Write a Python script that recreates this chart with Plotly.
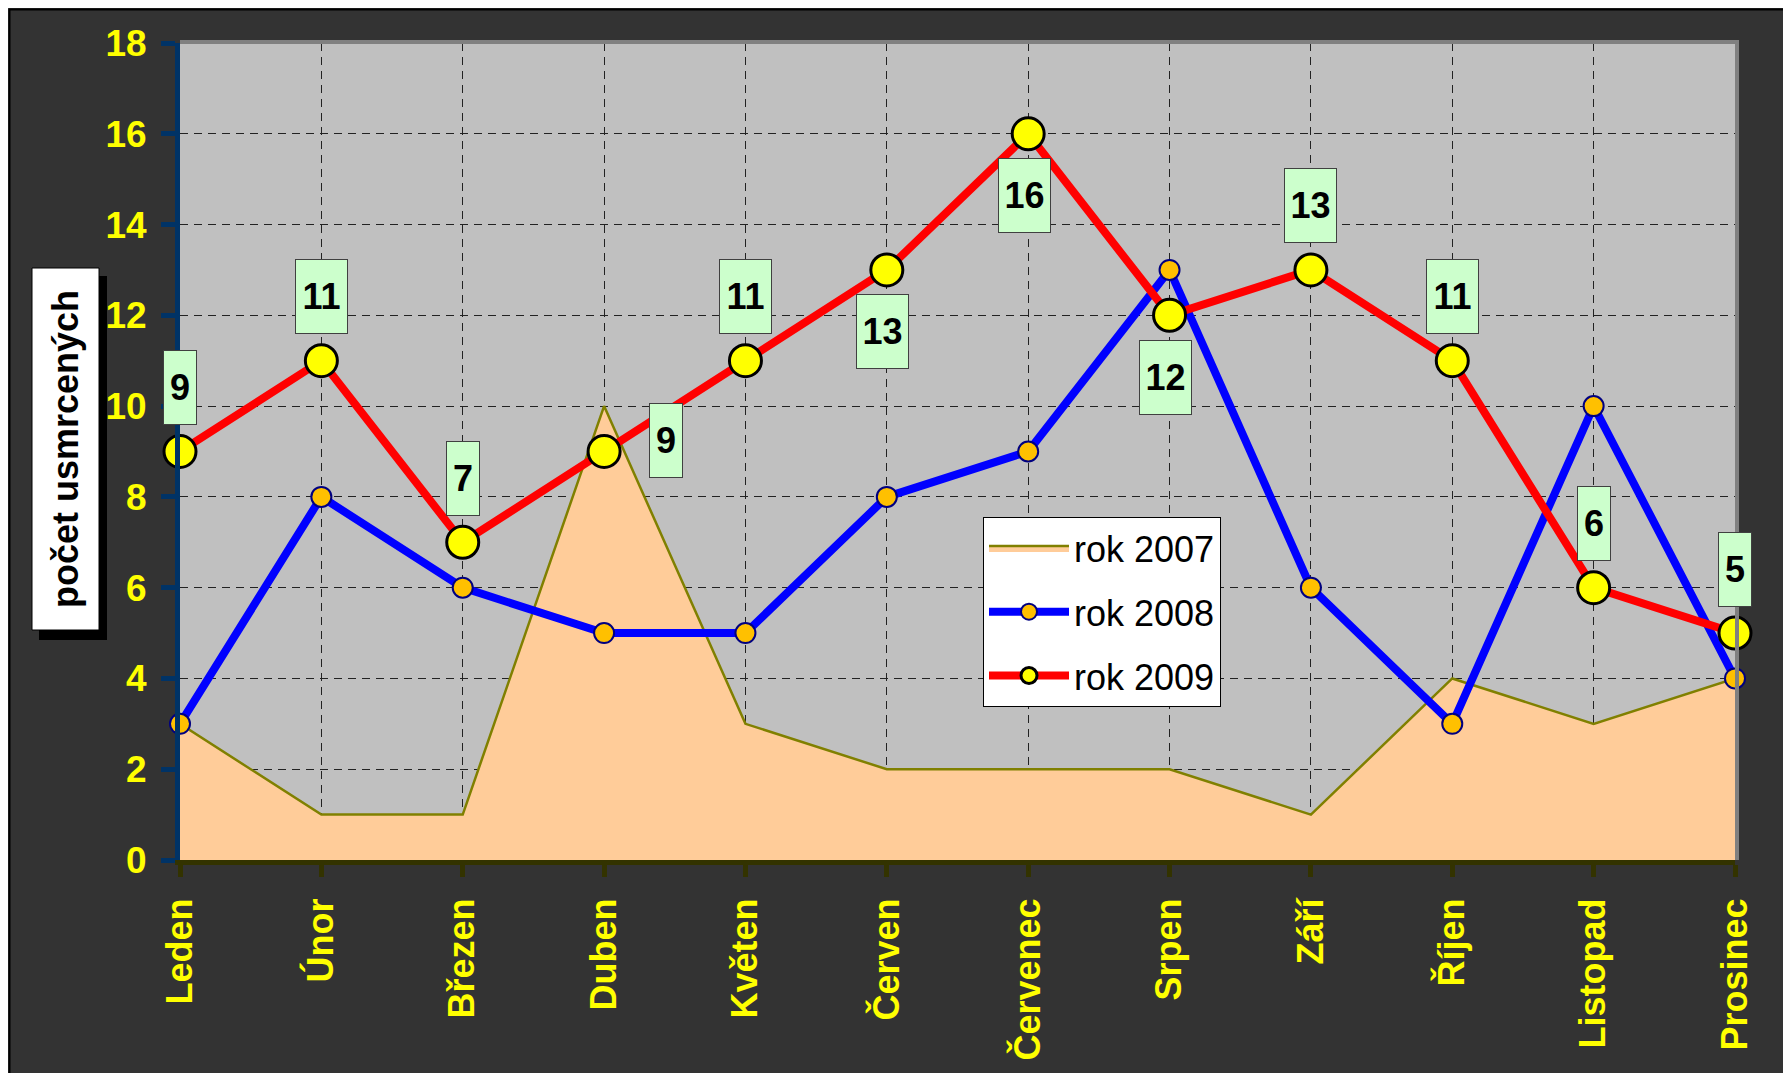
import plotly.graph_objects as go

months = ["Leden", "Únor", "Březen", "Duben", "Květen", "Červen",
          "Červenec", "Srpen", "Září", "Říjen", "Listopad", "Prosinec"]
rok2007 = [3, 1, 1, 10, 3, 2, 2, 2, 1, 4, 3, 4]
rok2008 = [3, 8, 6, 5, 5, 8, 9, 13, 6, 3, 10, 4]
rok2009 = [9, 11, 7, 9, 11, 13, 16, 12, 13, 11, 6, 5]
y_ticks = [0, 2, 4, 6, 8, 10, 12, 14, 16, 18]

# label placement for 2009 values (pixel shifts)
label_pos = ["up", "up", "up", "right", "up", "down", "down", "down", "up", "up", "up", "up"]

OFF = 8  # browser body margin
W, H = 1791 - OFF, 1073 - OFF
L, R, T, B = 180 - OFF, 1735 - OFF, 43 - OFF, 860 - OFF
FONT = "Liberation Sans, Arial, sans-serif"


def px(x):
    """page pixel x -> paper coordinate"""
    return (x - OFF - L) / (R - L)


def py(y):
    """page pixel y -> paper coordinate"""
    return 1 - (y - OFF - T) / (B - T)


fig = go.Figure()

fig.add_trace(go.Scatter(
    x=months, y=rok2007, name="rok 2007", mode="lines", legendgroup="a",
    line=dict(color="#808000", width=2.5),
    fill="tozeroy", fillcolor="#ffcc99", cliponaxis=False,
))
fig.add_trace(go.Scatter(
    x=months, y=rok2008, name="rok 2008", mode="lines+markers", legendgroup="b",
    line=dict(color="#0000ff", width=8),
    marker=dict(size=20, color="#ffc000", line=dict(color="#000080", width=2)),
    cliponaxis=False,
))
fig.add_trace(go.Scatter(
    x=months, y=rok2009, name="rok 2009", mode="lines+markers", legendgroup="c",
    line=dict(color="#ff0000", width=8),
    marker=dict(size=32, color="#ffff00", line=dict(color="#000000", width=3)),
    cliponaxis=False,
))

annotations = []
for m, v, pos in zip(months, rok2009, label_pos):
    xs, ys = 0, 0
    if pos == "up":
        ys = 64
    elif pos == "down":
        ys = -62
        xs = -4
    elif pos == "right":
        xs = 62
        ys = 11
    annotations.append(dict(
        x=m, y=v, xref="x", yref="y", text=str(v), showarrow=False,
        xshift=xs, yshift=ys,
        font=dict(family=FONT, size=36, color="#000000", weight="bold"),
        bgcolor="#ccffcc", bordercolor="#404040", borderwidth=1, borderpad=0,
        width=32 if v < 10 else 51, height=73, valign="middle",
    ))

annotations.append(dict(
    x=px(66), y=py(449), xref="paper", yref="paper",
    text="počet usmrcených", textangle=-90, showarrow=False,
    font=dict(family=FONT, size=36, color="#000000", weight="bold"),
    xanchor="center", yanchor="middle",
))

shapes = [
    # outer frame (left and top visible)
    dict(type="line", xref="paper", yref="paper", x0=px(9.5), x1=px(9.5), y0=py(9), y1=py(1080),
         line=dict(color="#000000", width=2)),
    dict(type="line", xref="paper", yref="paper", x0=px(9), x1=px(1800), y0=py(9.5), y1=py(9.5),
         line=dict(color="#000000", width=2)),
    # plot area top/right border
    dict(type="line", xref="paper", yref="paper", x0=0, x1=1, y0=py(42), y1=py(42),
         line=dict(color="#808080", width=4)),
    dict(type="line", xref="paper", yref="paper", x0=px(1737), x1=px(1737), y0=0, y1=py(40),
         line=dict(color="#808080", width=4)),
    # axis title box with shadow
    dict(type="rect", xref="paper", yref="paper", x0=px(39), x1=px(107), y0=py(276), y1=py(640),
         fillcolor="#000000", line=dict(width=0)),
    dict(type="rect", xref="paper", yref="paper", x0=px(32), x1=px(99), y0=py(268), y1=py(630),
         fillcolor="#ffffff", line=dict(color="#000000", width=1)),
]

fig.update_layout(
    width=W, height=H, autosize=False,
    margin=dict(l=L, r=W - R, t=T, b=H - B),
    paper_bgcolor="#333333", plot_bgcolor="#c0c0c0",
    font=dict(family=FONT),
    showlegend=True,
    legend=dict(
        x=px(983), y=py(517), xanchor="left", yanchor="top",
        bgcolor="#ffffff", bordercolor="#000000", borderwidth=1,
        font=dict(family=FONT, size=36, color="#000000"),
        itemwidth=80, tracegroupgap=14,
    ),
    annotations=annotations,
    shapes=shapes,
)

fig.update_xaxes(
    type="category", range=[0, 11], automargin=False,
    tickangle=-90, tickfont=dict(family=FONT, size=36, color="#ffff00", weight="bold"),
    ticks="outside", ticklen=12, tickwidth=5, tickcolor="#333300",
    showline=True, linecolor="#333300", linewidth=5,
    showgrid=True, gridcolor="#222222", gridwidth=1, griddash="8px,6px",
    ticklabelstandoff=7, zeroline=False,
)
fig.update_yaxes(
    range=[0, 18], tickvals=y_ticks, automargin=False,
    tickfont=dict(family=FONT, size=37, color="#ffff00", weight="bold"),
    ticks="outside", ticklen=14, tickwidth=5, tickcolor="#003366",
    showline=True, linecolor="#003366", linewidth=5,
    showgrid=True, gridcolor="#222222", gridwidth=1, griddash="8px,6px",
    ticklabelstandoff=7, zeroline=False,
)

fig.write_html("out.html")
